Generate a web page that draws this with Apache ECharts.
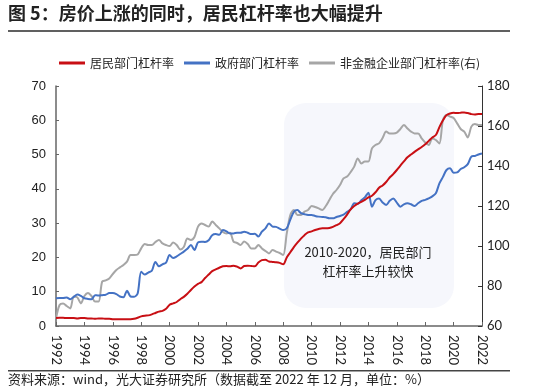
<!DOCTYPE html>
<html><head><meta charset="utf-8">
<script src="https://cdn.jsdelivr.net/npm/echarts@6/dist/echarts.min.js"></script>
<style>html,body{margin:0;padding:0;background:#fff;}#c{width:550px;height:392px;}</style>
</head><body><div id="c"></div>
<script>
// Quarterly observations, 1992Q1 .. 2022Q1
const startYear = 1992;
const seriesNames = ['居民部门杠杆率', '政府部门杠杆率', '非金融企业部门杠杆率(右)'];
const household = [
 2.3,2.4,2.4,2.3, 2.3,2.3,2.2,2.3, 2.3,2.2,2.2,2.1, 2.2,2.2,2.1,2.1,
 2.0,2.0,2.0,2.0, 2.0,2.0,2.1,2.4, 2.8,3.0,3.1,3.4, 3.8,4.2,4.4,5.0,
 6.2,6.6,7.0,7.8, 8.5,9.4,10.5,11.5, 12.3,12.8,14.0,15.0, 16.0,16.5,17.0,17.4,
 17.5,17.4,17.6,17.3, 16.8,17.5,17.6,17.5, 17.4,18.5,19.2,19.3, 18.8,18.7,18.6,18.4,
 18.0,20.0,21.5,23.0, 24.3,25.5,26.5,27.3, 27.6,28.0,28.3,28.5, 28.5,28.6,28.9,29.4,
 30.0,31.2,32.5,34.0, 35.0,35.7,36.2,36.8, 37.5,38.0,39.0,40.3, 41.0,42.0,43.3,44.3,
 45.5,46.8,48.0,49.2, 50.0,50.8,51.5,52.2, 53.0,54.0,55.0,55.7, 58.0,60.0,61.5,62.0,
 62.2,62.1,62.2,62.3, 62.1,61.8,61.7,61.8, 61.8
];
const government = [
 8.1,8.2,8.2,8.3, 7.8,8.5,9.2,8.8, 8.1,7.9,7.8,9.0, 8.9,9.0,9.1,9.6,
 9.6,9.3,8.6,8.4, 10.3,8.6,8.5,9.5, 15.8,15.0,15.6,16.1, 18.7,17.4,18.0,18.5,
 20.7,19.8,20.3,21.0, 21.7,22.5,23.6,22.2, 24.4,24.6,24.5,25.0, 26.5,26.8,26.6,28.0,
 27.6,27.0,27.0,27.2, 27.2,27.5,27.2,26.8, 26.9,26.1,27.5,28.5, 29.9,29.0,28.9,28.4,
 28.0,28.5,31.0,33.3, 33.8,32.9,32.6,32.4, 32.4,32.1,31.9,31.8, 31.7,31.4,31.4,31.8,
 32.1,32.5,33.3,34.0, 35.8,35.6,36.7,37.5, 38.9,34.8,36.7,37.2, 36.0,35.3,36.5,37.2,
 36.0,34.8,35.5,35.8, 35.5,35.0,35.8,36.5, 36.8,37.2,37.8,38.7, 41.6,43.5,45.5,46.0,
 44.7,44.8,45.8,46.3, 47.2,49.4,49.6,50.0, 50.3
];
const corporate = [
 63.8,70.5,71.3,70.0, 68.8,74.7,74.3,71.3, 75.0,76.5,75.0,72.2, 72.2,82.2,82.8,83.8,
 86.0,88.0,89.3,90.5, 92.2,95.5,95.5,95.8, 98.8,101.0,100.5,100.5, 102.0,103.0,101.3,100.5,
 100.0,101.7,100.5,98.3, 99.5,103.8,103.0,104.5, 109.7,111.3,110.5,109.7, 112.2,110.5,108.8,107.0,
 106.3,106.6,102.2,101.5, 100.5,102.2,101.0,98.8, 98.8,100.5,98.8,97.5, 96.3,98.0,97.2,96.5,
 95.5,106.3,115.5,118.0, 115.5,115.5,117.2,118.0, 120.0,119.5,118.8,118.0, 120.0,123.0,126.0,128.0,
 130.5,133.8,134.7,137.0, 139.7,143.8,141.3,142.2, 142.2,148.8,150.5,151.3, 154.0,157.2,156.3,156.3,
 156.7,158.5,160.5,158.8, 157.2,156.3,156.3,153.8, 151.8,150.5,153.8,153.0, 151.3,163.0,165.5,164.7,
 164.0,161.3,158.5,157.2, 154.3,159.7,161.0,160.5, 160.5
];
const categories = household.map((_, i) => (startYear + Math.floor(i / 4)) + 'Q' + (i % 4 + 1));
const leftTicks = {min: 0, max: 70, interval: 10};
const rightTicks = {min: 60, max: 180, interval: 20};
const titleText = '图 5：房价上涨的同时，居民杠杆率也大幅提升';
const noteLines = ['2010-2020，居民部门', '杠杆率上升较快'];
const sourceText = '资料来源：wind，光大证券研究所（数据截至 2022 年 12 月，单位：%）';

const chart = echarts.init(document.getElementById('c'), null, {renderer: 'canvas'});
const cjk = '"Noto Sans CJK SC", "Noto Sans", sans-serif';
chart.setOption({
  animation: false,
  backgroundColor: '#fff',
  color: ['#c80f14', '#4472c4', '#a6a6a6'],
  grid: {left: 56, right: 68, top: 86, bottom: 66},
  legend: {
    left: 54, top: 52, itemWidth: 26, itemHeight: 3, itemGap: 10, icon: 'rect',
    textStyle: {fontSize: 12, color: '#222', fontFamily: cjk},
    data: seriesNames
  },
  graphic: [
    {type: 'text', left: 8, top: 4, style: {text: titleText, font: 'bold 18px "Noto Sans CJK SC"', fill: '#222'}},
    {type: 'rect', shape: {x: 8, y: 30, width: 502, height: 2}, style: {fill: '#606060'}},
    {type: 'rect', z: -10, shape: {x: 284, y: 103, width: 170, height: 205, r: 22}, style: {fill: '#f6f7fc'}},
    {type: 'text', x: 368, y: 252, style: {text: noteLines[0], font: '13px "Noto Sans CJK SC"', fill: '#222', textAlign: 'center', textVerticalAlign: 'middle'}},
    {type: 'text', x: 368, y: 271, style: {text: noteLines[1], font: '13px "Noto Sans CJK SC"', fill: '#222', textAlign: 'center', textVerticalAlign: 'middle'}},
    {type: 'rect', shape: {x: 8, y: 370, width: 502, height: 1.5}, style: {fill: '#444'}},
    {type: 'text', left: 8, top: 373, style: {text: sourceText, font: '13px "Noto Sans CJK SC"', fill: '#222'}}
  ],
  xAxis: {
    type: 'category', data: categories, boundaryGap: false,
    axisLine: {lineStyle: {color: '#666', width: 1.5}},
    axisTick: {inside: true, length: 4, interval: 7, lineStyle: {color: '#666'}},
    axisLabel: {interval: 7, rotate: -90, margin: 9, fontSize: 13, color: '#222', fontFamily: 'Lato',
      formatter: v => v.slice(0, 4)},
    splitLine: {show: false}
  },
  yAxis: [
    {type: 'value', min: leftTicks.min, max: leftTicks.max, interval: leftTicks.interval,
     axisLine: {show: true, lineStyle: {color: '#666', width: 1.5}},
     axisTick: {show: true, inside: true, length: 3, lineStyle: {color: '#666'}},
     axisLabel: {fontSize: 13, color: '#222', margin: 10, fontFamily: '"Liberation Sans"'},
     splitLine: {show: false}},
    {type: 'value', min: rightTicks.min, max: rightTicks.max, interval: rightTicks.interval,
     axisLine: {show: true, lineStyle: {color: '#333', width: 1}},
     axisTick: {show: true, inside: true, length: 4, lineStyle: {color: '#333'}},
     axisLabel: {fontSize: 13, color: '#222', margin: 5, fontFamily: 'Lato'},
     splitLine: {show: false}}
  ],
  series: [
    {name: seriesNames[0], type: 'line', data: household, yAxisIndex: 0, showSymbol: false, smooth: 0.3, lineStyle: {width: 2}, z: 5},
    {name: seriesNames[1], type: 'line', data: government, yAxisIndex: 0, showSymbol: false, smooth: 0.3, lineStyle: {width: 2}, z: 4},
    {name: seriesNames[2], type: 'line', data: corporate, yAxisIndex: 1, showSymbol: false, smooth: 0.3, lineStyle: {width: 2}, z: 3}
  ]
});
</script></body></html>
